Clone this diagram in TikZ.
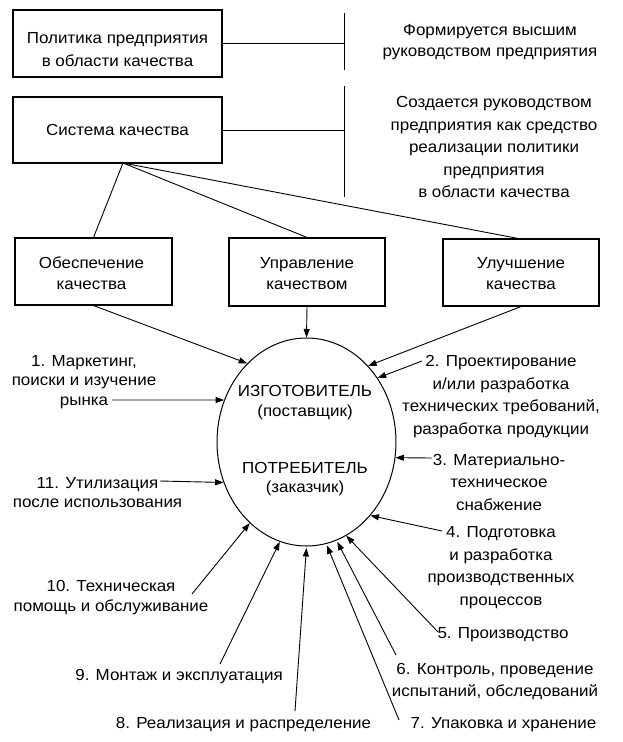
\documentclass[tikz,border=0pt]{standalone}
\usepackage{fontspec}
\setmainfont{Liberation Sans}[FakeStretch=1.06]
\usetikzlibrary{arrows.meta,shapes.geometric,calc}
\begin{document}
\begin{tikzpicture}[x=1pt,y=-1pt,
  box/.style={draw, line width=1.1pt, inner sep=0pt},
  txtL/.style={align=center, inner sep=0pt, font=\fontsize{16}{19.5}\selectfont},
  txtR/.style={align=center, inner sep=0pt, font=\fontsize{16}{22.5}\selectfont},
  txtB/.style={align=center, inner sep=0pt, font=\fontsize{16}{22}\selectfont},
  ln/.style={line width=0.9pt},
  arr/.style={line width=0.9pt, -{Triangle[length=8.5pt,width=6pt]}}]
\useasboundingbox (0,0) rectangle (622,742);

% boxes
\node[box, minimum width=209pt, minimum height=67pt] (b1) at (117.5,43.5) {};
\node[box, minimum width=209pt, minimum height=66pt] (b2) at (117.5,130) {};
\node[box, minimum width=157pt, minimum height=67pt] (b3) at (93.5,271.5) {};
\node[box, minimum width=156pt, minimum height=68pt] (b4) at (307,272) {};
\node[box, minimum width=156pt, minimum height=67pt] (b5) at (521,272.5) {};
\node[draw, ellipse, line width=1pt, minimum width=179pt, minimum height=208pt, inner sep=0pt] (E) at (306.5,442) {};

% box texts
\node[txtB, font=\fontsize{16}{23.5}\selectfont] (tb1) at ($(b1.center)+(0,6)$) {Политика предприятия\\в области качества};
\node[txtB] (tb2) at (b2.center) {Система качества};
\node[txtB, font=\fontsize{16}{21}\selectfont] (tb3) at ($(b3.center)+(-2,2)$) {Обеспечение\\качества};
\node[txtB, font=\fontsize{16}{21}\selectfont] (tb4) at ($(b4.center)+(0,2)$) {Управление\\качеством};
\node[txtB, font=\fontsize{16}{21}\selectfont] (tb5) at ($(b5.center)+(0,1)$) {Улучшение\\качества};

% right-hand notes
\coordinate (v1t) at (344,13);
\coordinate (v1b) at (344,70);
\coordinate (v2t) at (344,86);
\coordinate (v2b) at (344,197);
\draw[ln] (v1t) -- (v1b);
\draw[ln] (v2t) -- (v2b);
\draw[ln] (b1.east) -- (b1.east -| v1t);
\draw[ln] (b2.east) -- (b2.east -| v2t);
\node[txtB, font=\fontsize{16}{21}\selectfont] (n1) at (490,42.5) {Формируется высшим\\руководством предприятия};
\node[txtB, font=\fontsize{16}{22.5}\selectfont] (n2) at (494,147) {Создается руководством\\предприятия как средство\\реализации политики\\предприятия\\в области качества};

% tree from quality system
\coordinate (s) at (123,163);
\draw[ln] (s) -- (b3.north);
\draw[ln] (s) -- (b4.north);
\draw[ln] (s) -- ($(b5.north)+(-3,0)$);

% arrows from boxes to ellipse
\draw[arr] (b3.south) -- (E.127.8);
\draw[arr] (b4.south) -- (E.north);
\draw[arr] (b5.south) -- (E.51.6);

% ellipse texts
\node[txtL] (e1) at (305,402.5) {ИЗГОТОВИТЕЛЬ\\(поставщик)};
\node[txtL] (e2) at (305,479) {ПОТРЕБИТЕЛЬ\\(заказчик)};

% stage labels
\node[txtL] (i1) at (84,382) {1. Маркетинг,\\поиски и изучение\\рынка};
\node[txtR] (i2) at (501,396.5) {2. Проектирование\\и/или разработка\\технических требований,\\разработка продукции};
\node[txtR] (i3) at (499,482) {3. Материально-\\техническое\\снабжение};
\node[txtR] (i4) at (501,567.5) {4. Подготовка\\и разработка\\производственных\\процессов};
\node[txtR] (i5) at (503,635) {5. Производство};
\node[txtR] (i6) at (495,681.5) {6. Контроль, проведение\\испытаний, обследований};
\node[txtR] (i7) at (503.5,725) {7. Упаковка и хранение};
\node[txtL] (i8) at (243.5,725) {8. Реализация и распределение};
\node[txtL] (i9) at (179,677) {9. Монтаж и эксплуатация};
\node[txtL] (i10) at (111,597.5) {10. Техническая\\помощь и обслуживание};
\node[txtL] (i11) at (97.5,492.5) {11. Утилизация\\после использования};

% arrow start points
\coordinate (c1) at (112,400);
\coordinate (c2) at (422,361);
\coordinate (c3) at (432,458);
\coordinate (c4) at (442,531);
\coordinate (c5) at (438,632);
\coordinate (c6) at (396,655);
\coordinate (c7) at (399,720);
\coordinate (c8) at (295,711);
\coordinate (c9) at (220,664);
\coordinate (c10) at (192,594);
\coordinate (c11) at (160,481);

\draw[arr] (c1) -- (E.153.3);
\draw[arr] (c2) -- (E.42.3);
\draw[arr] (c3) -- (E.-10);
\draw[arr] (c4) -- (E.-49.7);
\draw[arr] (c5) -- (E.-67.1);
\draw[arr, shorten >=1.5pt] (c6) -- (E.-73);
\draw[arr, shorten >=1.5pt] (c7) -- (E.-79.9);
\draw[arr, shorten >=1.5pt] (c8) -- (E.south);
\draw[arr] (c9) -- (E.-105.9);
\draw[arr] (c10) -- (E.-125.8);
\draw[arr] (c11) -- (E.-154.4);
\end{tikzpicture}
\end{document}
